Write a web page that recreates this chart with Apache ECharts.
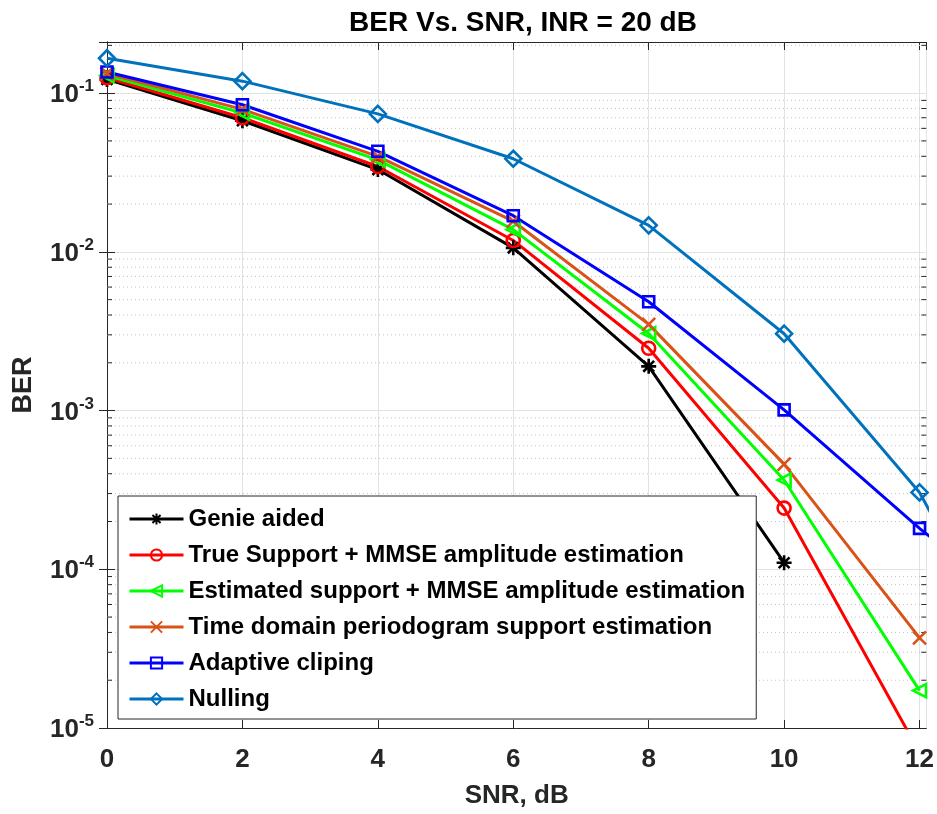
<!DOCTYPE html>
<html>
<head>
<meta charset="utf-8">
<script src="https://cdn.jsdelivr.net/npm/echarts@6/dist/echarts.min.js"></script>
<style>
  html, body { margin: 0; padding: 0; background: #fff; }
  #chart { width: 937px; height: 814px; }
</style>
</head>
<body>
<div id="chart"></div>
<script>
// ---- Data ----
const snr = [0, 2, 4, 6, 8, 10, 12, 14];
const genieAided     = [0.122, 0.067, 0.033, 0.0106, 0.0019, 1.1e-4, null, null];
const trueSupport    = [0.125, 0.070, 0.0345, 0.0118, 0.00247, 2.43e-4, 7e-6, null];
const estSupport     = [0.129, 0.075, 0.038, 0.0138, 0.00306, 3.65e-4, 1.72e-5, null];
const timeDomain     = [0.133, 0.079, 0.040, 0.0156, 0.00349, 4.6e-4, 3.7e-5, null];
const adaptiveClip   = [0.136, 0.0845, 0.043, 0.0169, 0.00485, 1.01e-3, 1.81e-4, 3.9e-5];
const nulling        = [0.166, 0.119, 0.074, 0.0386, 0.0147, 3.05e-3, 3.05e-4, 8.2e-6];

const seriesNames = [
  'Genie aided',
  'True Support + MMSE amplitude estimation',
  'Estimated support + MMSE amplitude estimation',
  'Time domain periodogram support estimation',
  'Adaptive cliping',
  'Nulling'
];
const minorMultipliers = [2, 3, 4, 5, 6, 7, 8, 9];
const decades = [1e-5, 1e-4, 1e-3, 1e-2, 1e-1];

// ---- Axis ranges / styles ----
const xMin = 0, xMax = 12.1;
const yMin = 1e-5, yMax = 0.21;
const FONT = '"Liberation Sans", Arial, Helvetica, sans-serif';
const AX = '#262626';

const minorValues = [];
decades.forEach(d => minorMultipliers.forEach(m => {
  const v = m * d;
  if (v < yMax) minorValues.push(v);
}));

const ASTERISK = 'path://M0,-1L0,1M-1,0L1,0M-0.72,-0.72L0.72,0.72M-0.72,0.72L0.72,-0.72';
const CROSS = 'path://M-1,-1L1,1M-1,1L1,-1';
const LTRI = 'path://M-1,0L1,-1L1,1Z';
const DIAMOND = 'path://M0,-1L0.75,0L0,1L-0.75,0Z';

const styles = [
  { color: '#000000', symbol: ASTERISK, size: 15 },
  { color: '#FF0000', symbol: 'circle', size: 13 },
  { color: '#00FF00', symbol: LTRI, size: 13 },
  { color: '#D95319', symbol: CROSS, size: 13 },
  { color: '#0000FF', symbol: 'rect', size: 11 },
  { color: '#0072BD', symbol: DIAMOND, size: 16 }
];
const allData = [genieAided, trueSupport, estSupport, timeDomain, adaptiveClip, nulling];

const lineSeries = allData.map((vals, i) => ({
  name: seriesNames[i],
  type: 'line',
  xAxisIndex: 0,
  yAxisIndex: 0,
  data: snr.map((x, k) => [x, vals[k] == null ? null : vals[k]]),
  connectNulls: false,
  clip: true,
  symbol: styles[i].symbol,
  symbolSize: styles[i].size,
  showAllSymbol: true,
  lineStyle: { color: styles[i].color, width: 3 },
  itemStyle: { color: 'rgba(255,255,255,0)', borderColor: styles[i].color, borderWidth: 2.6 },
  emphasis: { disabled: true },
  z: 3
}));

const minorSeries = {
  type: 'custom',
  xAxisIndex: 0,
  yAxisIndex: 0,
  silent: true,
  z: 1,
  clip: false,
  data: minorValues.map(v => [xMin, v]),
  renderItem: function (params, api) {
    const v = api.value(1);
    const p0 = api.coord([xMin, v]);
    const p1 = api.coord([xMax, v]);
    return {
      type: 'group',
      children: [
        { type: 'line', shape: { x1: p0[0], y1: p0[1], x2: p1[0], y2: p1[1] },
          style: { stroke: '#c4c4c4', lineWidth: 1, lineDash: [1, 3] } },
        { type: 'line', shape: { x1: p0[0], y1: p0[1], x2: p0[0] + 5, y2: p0[1] },
          style: { stroke: AX, lineWidth: 1 } },
        { type: 'line', shape: { x1: p1[0] - 5, y1: p1[1], x2: p1[0], y2: p1[1] },
          style: { stroke: AX, lineWidth: 1 } }
      ]
    };
  }
};

const chart = echarts.init(document.getElementById('chart'), null, { renderer: 'canvas' });
chart.setOption({
  animation: false,
  backgroundColor: '#ffffff',
  textStyle: { fontFamily: FONT },
  title: {
    text: 'BER Vs. SNR, INR = 20 dB',
    left: 518,
    textAlign: 'center',
    top: 4,
    textStyle: { fontFamily: FONT, fontSize: 28, fontWeight: 'bold', color: '#000' }
  },
  grid: { left: 107, right: 9, top: 42, bottom: 84, show: false },
  legend: {
    data: seriesNames,
    orient: 'vertical',
    left: 118,
    top: 496,
    itemWidth: 54,
    itemHeight: 14,
    itemGap: 12,
    padding: [11, 11, 8, 10],
    backgroundColor: '#ffffff',
    borderColor: AX,
    borderWidth: 1,
    borderRadius: 0,
    selectedMode: false,
    lineStyle: { width: 3 },
    textStyle: { fontFamily: FONT, fontSize: 24, fontWeight: 'bold', color: '#000' }
  },
  xAxis: [
    {
      type: 'value', min: xMin, max: xMax, interval: 2,
      position: 'bottom',
      name: 'SNR, dB', nameLocation: 'middle', nameGap: 55,
      nameTextStyle: { fontFamily: FONT, fontSize: 26, fontWeight: 'bold', color: AX },
      axisLine: { show: true, lineStyle: { color: AX, width: 1 } },
      axisTick: { show: true, inside: true, length: 8, lineStyle: { color: AX } },
      axisLabel: { show: true, margin: 19, showMaxLabel: false,
        fontFamily: FONT, fontSize: 26, fontWeight: 'bold', color: AX },
      splitLine: { show: true, lineStyle: { color: '#e2e2e2', width: 1 } }
    },
    {
      type: 'value', min: xMin, max: xMax, interval: 2,
      position: 'top',
      axisLine: { show: true, lineStyle: { color: AX, width: 1 } },
      axisTick: { show: true, inside: true, length: 8, lineStyle: { color: AX } },
      axisLabel: { show: false },
      splitLine: { show: false }
    }
  ],
  yAxis: [
    {
      type: 'log', logBase: 10, min: yMin, max: yMax,
      position: 'left',
      name: 'BER', nameLocation: 'middle', nameGap: 70, nameRotate: 90,
      nameTextStyle: { fontFamily: FONT, fontSize: 27, fontWeight: 'bold', color: AX },
      axisLine: { show: true, lineStyle: { color: AX, width: 1 } },
      axisTick: { show: true, inside: true, length: 8, lineStyle: { color: AX } },
      axisLabel: {
        show: true, margin: 13, showMaxLabel: false,
        formatter: function (v) {
          const e = Math.round(Math.log10(v));
          return '{b|10}{s|' + e + '}';
        },
        rich: {
          b: { fontFamily: FONT, fontSize: 26, fontWeight: 'bold', color: AX, verticalAlign: 'bottom' },
          s: { fontFamily: FONT, fontSize: 17, fontWeight: 'bold', color: AX, verticalAlign: 'bottom', padding: [0, 0, 13, 0] }
        }
      },
      splitLine: { show: true, lineStyle: { color: '#e2e2e2', width: 1 } }
    },
    {
      type: 'log', logBase: 10, min: yMin, max: yMax,
      position: 'right',
      axisLine: { show: true, lineStyle: { color: AX, width: 1 } },
      axisTick: { show: true, inside: true, length: 8, lineStyle: { color: AX } },
      axisLabel: { show: false },
      splitLine: { show: false }
    }
  ],
  series: [minorSeries].concat(lineSeries)
});
</script>
</body>
</html>
